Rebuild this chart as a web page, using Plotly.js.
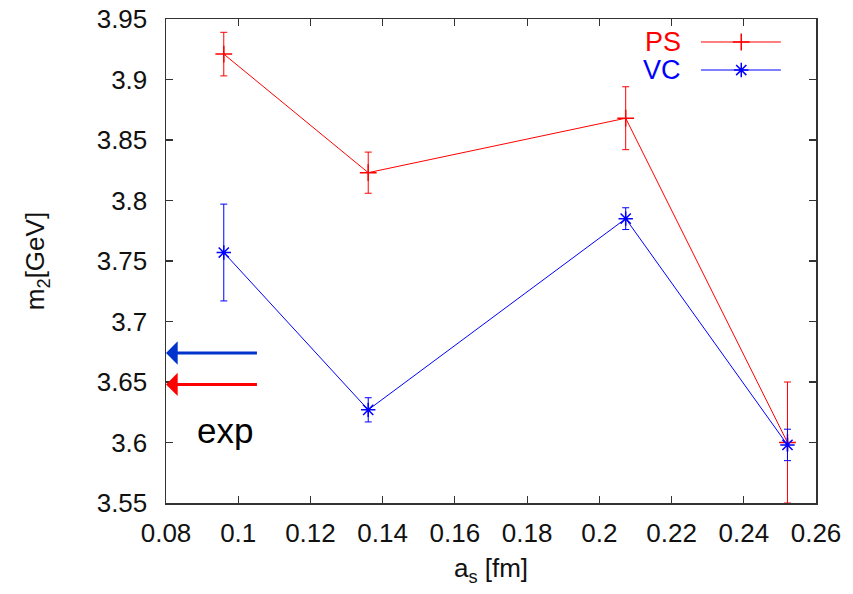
<!DOCTYPE html>
<html>
<head>
<meta charset="utf-8">
<script src="https://cdn.plot.ly/plotly-3.0.1.min.js"></script>
<style>html,body{margin:0;padding:0;background:#fff;}#chart{width:853px;height:594px;}</style>
</head>
<body>
<div id="chart"></div>
<script>
// Lattice spacing a_s [fm]
const aS = [0.096, 0.136, 0.2073, 0.2521];
// PS channel mass and errors
const psMass = [3.921, 3.823, 3.868, 3.600];
const psErr  = [0.018, 0.017, 0.026, 0.050];
// VC channel mass and errors
const vcMass = [3.757, 3.627, 3.785, 3.598];
const vcErr  = [0.040, 0.010, 0.009, 0.013];
// Experimental values (arrows)
const expVC = 3.674;
const expPS = 3.648;
const expArrowFrom = 0.1056;
const seriesNames = ["PS", "VC"];

const red = "#ff0000", blue = "#0000ff";
const font = "Liberation Sans, Arial, sans-serif";

const traces = [
  {x: aS, y: psMass, type: "scatter", mode: "lines+markers", name: seriesNames[0],
   line: {color: red, width: 1},
   marker: {symbol: "cross-thin-open", size: 12, color: red, line: {color: red, width: 1.5}},
   error_y: {type: "data", array: psErr, visible: true, color: red, thickness: 1, width: 3.5},
   showlegend: false, hoverinfo: "x+y"},
  {x: aS, y: vcMass, type: "scatter", mode: "lines+markers", name: seriesNames[1],
   line: {color: blue, width: 1},
   marker: {symbol: "asterisk-open", size: 12, color: blue, line: {color: blue, width: 1.5}},
   error_y: {type: "data", array: vcErr, visible: true, color: blue, thickness: 1, width: 3.5},
   showlegend: false, hoverinfo: "x+y"},
  // legend samples on a hidden overlay axis
  {x: [0.823, 0.946], y: [0.9525, 0.9525], xaxis: "x2", yaxis: "y2",
   mode: "lines", line: {color: red, width: 1}, showlegend: false, hoverinfo: "skip"},
  {x: [0.885], y: [0.9525], xaxis: "x2", yaxis: "y2",
   mode: "markers", marker: {symbol: "cross-thin-open", size: 12, color: red, line: {color: red, width: 1.5}},
   showlegend: false, hoverinfo: "skip"},
  {x: [0.823, 0.946], y: [0.8946, 0.8946], xaxis: "x2", yaxis: "y2",
   mode: "lines", line: {color: blue, width: 1}, showlegend: false, hoverinfo: "skip"},
  {x: [0.885], y: [0.8946], xaxis: "x2", yaxis: "y2",
   mode: "markers", marker: {symbol: "asterisk-open", size: 12, color: blue, line: {color: blue, width: 1.5}},
   showlegend: false, hoverinfo: "skip"}
];

const axisCommon = {
  showgrid: false, zeroline: false, showline: true, linecolor: "#333", linewidth: 1.5,
  mirror: "ticks", ticks: "inside", ticklen: 7, tickwidth: 1.2, tickcolor: "#333",
  tickfont: {family: font, size: 26, color: "#111"}
};

const layout = {
  width: 853, height: 594,
  margin: {l: 166, r: 37, t: 19, b: 91},
  paper_bgcolor: "#fff", plot_bgcolor: "#fff",
  showlegend: false,
  xaxis: Object.assign({}, axisCommon, {
    range: [0.08, 0.26], dtick: 0.02, tick0: 0.08, ticklabelstandoff: 6,
    title: {text: "a<sub>s</sub> [fm]", font: {family: font, size: 26, color: "#111"}, standoff: 12}
  }),
  yaxis: Object.assign({}, axisCommon, {
    range: [3.55, 3.95], dtick: 0.05, tick0: 3.55, ticklabelstandoff: 12,
    title: {text: "m<sub>2</sub>[GeV]", font: {family: font, size: 26, color: "#111"}, standoff: 44}
  }),
  xaxis2: {overlaying: "x", range: [0, 1], visible: false, fixedrange: true},
  yaxis2: {overlaying: "y", range: [0, 1], visible: false, fixedrange: true},
  annotations: [
    {x: 0.08, y: expVC, ax: expArrowFrom, ay: expVC, xref: "x", yref: "y", axref: "x", ayref: "y",
     showarrow: true, arrowhead: 1, arrowsize: 1.3, arrowwidth: 3, arrowcolor: "#0033cc", text: ""},
    {x: 0.08, y: expPS, ax: expArrowFrom, ay: expPS, xref: "x", yref: "y", axref: "x", ayref: "y",
     showarrow: true, arrowhead: 1, arrowsize: 1.3, arrowwidth: 3, arrowcolor: red, text: ""},
    {x: 0.0962, y: 3.610, xref: "x", yref: "y", text: "exp", showarrow: false,
     font: {family: font, size: 35, color: "#000"}},
    {x: 0.795, y: 0.9525, xref: "x2", yref: "y2", xanchor: "right", text: seriesNames[0], showarrow: false,
     font: {family: font, size: 27, color: red}},
    {x: 0.795, y: 0.8946, xref: "x2", yref: "y2", xanchor: "right", text: seriesNames[1], showarrow: false,
     font: {family: font, size: 27, color: blue}}
  ]
};

Plotly.newPlot("chart", traces, layout, {displayModeBar: false, staticPlot: true});
</script>
</body>
</html>
